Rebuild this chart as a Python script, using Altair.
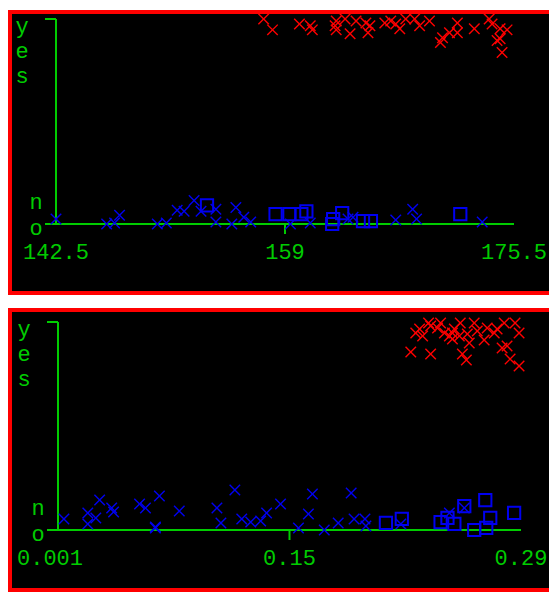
import altair as alt
import pandas as pd

# ---------------- data ----------------
CATEGORIES = ["no", "yes"]

# Panel 1
P1_TICKS = [142.5, 159.0, 175.5]
P1_TICK_LABELS = ["142.5", "159", "175.5"]
P1_YES_X = [157.46, 158.10, 160.04, 160.82, 160.97, 162.61, 162.69, 163.33, 162.69, 163.69,
            164.12, 164.83, 164.98, 165.12, 166.19, 166.62, 166.98, 167.27, 167.70, 168.34,
            168.70, 169.41, 170.35, 170.20, 170.85, 171.42, 171.42, 172.64, 173.71, 173.92,
            174.50, 175.00, 174.28, 174.50, 174.64]
P1_YES_Y = [1.000, 0.947, 0.976, 0.967, 0.947, 0.967, 0.990, 1.000, 0.947, 0.928,
            0.990, 0.981, 0.933, 0.967, 0.981, 0.990, 0.976, 0.952, 1.000, 1.000,
            0.967, 0.990, 0.909, 0.885, 0.933, 0.981, 0.933, 0.952, 1.000, 0.976,
            0.952, 0.947, 0.895, 0.904, 0.837]
P1_NOX_X = [142.50, 146.15, 146.72, 147.08, 149.80, 150.45, 151.23, 151.73, 152.45, 152.95,
            154.02, 154.02, 155.17, 155.46, 156.03, 156.53, 159.39, 160.82, 163.54, 163.90,
            166.98, 168.20, 168.48, 173.21]
P1_NOX_Y = [0.024, 0.000, 0.005, 0.043, 0.000, 0.005, 0.067, 0.062, 0.115, 0.062,
            0.072, 0.010, 0.000, 0.081, 0.033, 0.010, 0.000, 0.005, 0.024, 0.033,
            0.019, 0.072, 0.024, 0.010]
P1_NOSQ_X = [153.38, 158.32, 159.32, 160.18, 160.54, 162.47, 162.40, 163.12, 164.62, 165.19, 171.63]
P1_NOSQ_Y = [0.091, 0.048, 0.048, 0.048, 0.062, 0.024, 0.000, 0.053, 0.014, 0.014, 0.048]

# Panel 2
P2_TICKS = [0.001, 0.1455, 0.29]
P2_TICK_LABELS = ["0.001", "0.15", "0.29"]
P2_YES_X = [0.2212, 0.2243, 0.2267, 0.2286, 0.2336, 0.2323, 0.2336, 0.2398, 0.2422, 0.2472,
            0.2484, 0.2472, 0.2453, 0.2521, 0.2534, 0.2559, 0.2565, 0.2577, 0.2608, 0.2627,
            0.2670, 0.2689, 0.2733, 0.2751, 0.2782, 0.2813, 0.2795, 0.2863, 0.2832, 0.2888,
            0.2888, 0.2515, 0.2379]
P2_YES_Y = [0.856, 0.947, 0.966, 0.933, 0.846, 0.995, 0.981, 0.995, 0.947, 0.947,
            0.966, 0.918, 0.933, 0.995, 0.846, 0.817, 0.942, 0.899, 0.995, 0.957,
            0.913, 0.971, 0.947, 0.966, 0.875, 0.885, 0.995, 0.995, 0.822, 0.788,
            0.947, 0.933, 0.971]
P2_NOX_X = [0.0047, 0.0196, 0.0196, 0.0246, 0.0270, 0.0345, 0.0357, 0.0519, 0.0556, 0.0618,
            0.0618, 0.0643, 0.0767, 0.1002, 0.1027, 0.1114, 0.1157, 0.1213, 0.1275, 0.1312,
            0.1399, 0.1511, 0.1573, 0.1598, 0.1672, 0.1759, 0.1840, 0.1858, 0.1926, 0.1932,
            0.2150, 0.2453, 0.2546]
P2_NOX_Y = [0.053, 0.082, 0.029, 0.058, 0.144, 0.106, 0.087, 0.125, 0.106, 0.014,
            0.010, 0.163, 0.091, 0.106, 0.034, 0.192, 0.053, 0.038, 0.043, 0.082,
            0.125, 0.010, 0.077, 0.173, 0.000, 0.034, 0.178, 0.053, 0.053, 0.019,
            0.029, 0.082, 0.106]
P2_NOSQ_X = [0.2057, 0.2156, 0.2398, 0.2441, 0.2484, 0.2546, 0.2608, 0.2677, 0.2683, 0.2708, 0.2857]
P2_NOSQ_Y = [0.034, 0.053, 0.038, 0.058, 0.029, 0.115, 0.000, 0.144, 0.010, 0.058, 0.082]

# ---------------- style ----------------
GREEN = "#00cc00"
RED = "#ff0000"
BLUE = "#0000f0"
FONT = "Liberation Mono"
FS = 22
X_PATH = "M-1,-1L1,1M-1,1L1,-1"
VIEW_W = 545


def panel(ticks, tick_labels, yes_x, yes_y, nox_x, nox_y, nosq_x, nosq_y,
          xr, yr, height, first_dx):
    xmin, xmid, xmax = ticks
    xs = alt.Scale(domain=[xmin, xmax], range=xr, nice=False, zero=False)
    ys = alt.Scale(domain=[0, 1], range=yr, nice=False, zero=False)

    def X(f):
        return alt.X(f, type="quantitative", scale=xs, axis=None)

    def Y(f):
        return alt.Y(f, type="quantitative", scale=ys, axis=None)

    ax = pd.DataFrame({"x0": [xmin], "x1": [xmax], "xm": [xmid], "y0": [0.0], "y1": [1.0]})
    base = alt.Chart(ax)
    layers = [
        base.mark_rule(color=GREEN, strokeWidth=2).encode(x=X("x0"), y=Y("y0"), y2="y1"),
        base.mark_rule(color=GREEN, strokeWidth=2, xOffset=-11).encode(x=X("x0"), x2="x1", y=Y("y0")),
        base.mark_rule(color=GREEN, strokeWidth=2, xOffset=-11).encode(x=X("x0"), x2="x0", y=Y("y1")),
        base.mark_rule(color=GREEN, strokeWidth=2, y2Offset=10).encode(x=X("xm"), y=Y("y0"), y2="y0"),
    ]

    tl = pd.DataFrame({"x": ticks, "lab": tick_labels, "y": [0.0] * 3})
    for i in range(3):
        layers.append(
            alt.Chart(tl.iloc[[i]]).mark_text(font=FONT, fontSize=FS, color=GREEN, dy=28,
                                              dx=first_dx if i == 0 else 0,
                                              baseline="middle", align="center").encode(
                x=X("x"), y=Y("y"), text="lab:N"))

    # category labels written vertically, one letter under the other
    for val, cat in enumerate(CATEGORIES):
        for i, ch in enumerate(cat):
            if cat == "yes":
                dx, dy = -34, 7 + 25 * i
            else:
                dx, dy = -20, -22 + 26 * i
            d = pd.DataFrame({"x": [xmin], "y": [float(val)], "lab": [ch]})
            layers.append(
                alt.Chart(d).mark_text(font=FONT, fontSize=FS, color=GREEN, dx=dx, dy=dy,
                                       baseline="middle", align="center").encode(
                    x=X("x"), y=Y("y"), text="lab:N"))

    yes_df = pd.DataFrame({"x": yes_x, "y": yes_y})
    nox_df = pd.DataFrame({"x": nox_x, "y": nox_y})
    nosq_df = pd.DataFrame({"x": nosq_x, "y": nosq_y})
    layers.append(alt.Chart(nox_df).mark_point(shape=X_PATH, filled=False, color=BLUE, size=110,
                                               strokeWidth=1.4, opacity=1).encode(x=X("x"), y=Y("y")))
    layers.append(alt.Chart(nosq_df).mark_point(shape="square", filled=False, color=BLUE, size=150,
                                                strokeWidth=2, opacity=1).encode(x=X("x"), y=Y("y")))
    layers.append(alt.Chart(yes_df).mark_point(shape=X_PATH, filled=False, color=RED, size=110,
                                               strokeWidth=1.4, opacity=1).encode(x=X("x"), y=Y("y")))

    return alt.layer(*layers).properties(width=VIEW_W, height=height)


p1 = panel(P1_TICKS, P1_TICK_LABELS, P1_YES_X, P1_YES_Y, P1_NOX_X, P1_NOX_Y, P1_NOSQ_X, P1_NOSQ_Y,
           xr=[46, 504], yr=[212, 7], height=281, first_dx=0)
p2 = panel(P2_TICKS, P2_TICK_LABELS, P2_YES_X, P2_YES_Y, P2_NOX_X, P2_NOX_Y, P2_NOSQ_X, P2_NOSQ_Y,
           xr=[48, 511], yr=[220, 12], height=280, first_dx=-8)

chart = alt.vconcat(p1, p2, spacing=13).resolve_scale(
    x="independent", y="independent"
).properties(
    padding={"left": 0, "top": 0, "right": -8, "bottom": 0}
).configure_view(fill="black", stroke=RED, strokeWidth=4)

chart.save("out.html", embed_options={"renderer": "svg", "actions": False})
